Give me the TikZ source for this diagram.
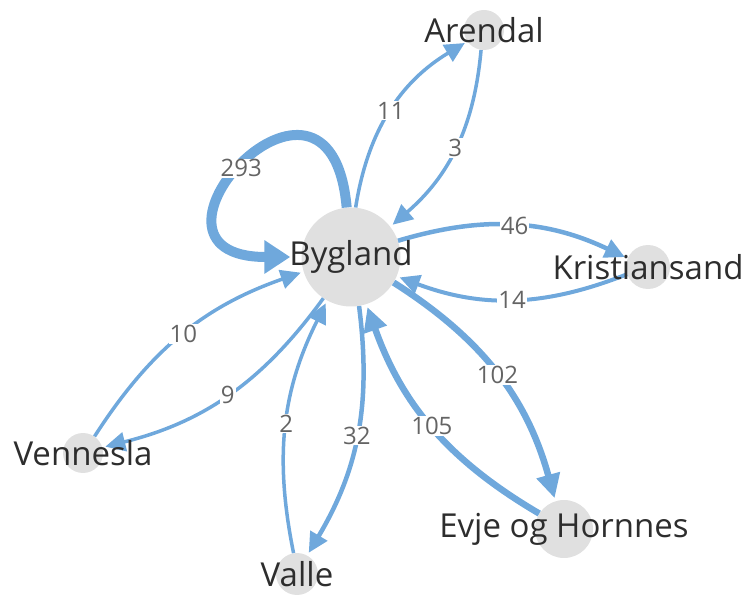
\documentclass[tikz,border=0pt]{standalone}
\usepackage{fontspec}
\setmainfont{Open Sans}
\usepackage{tikz}
\usetikzlibrary{calc,positioning,arrows.meta}

\definecolor{flowblue}{RGB}{111,168,220}
\definecolor{placegray}{RGB}{224,224,224}
\definecolor{nametext}{RGB}{45,45,45}
\definecolor{counttext}{RGB}{100,100,100}

\tikzset{
	place/.style={shape=circle,fill=placegray,inner sep=0pt,minimum size=#1},
	place/.default=40pt,
	placename/.style={text=nametext,inner sep=0pt,font=\fontsize{33}{40}\selectfont},
	count/.style={fill=white,inner sep=1pt,text=counttext,font=\fontsize{24}{28}\selectfont},
	flow/.style={color=flowblue,line width=#1,shorten >=3pt,>={Triangle[length=20pt,width=19pt]}},
	flow/.default=3.5pt,
	bigtip/.style={>={Triangle[length=24pt,width=23pt]}},
	hugetip/.style={>={Triangle[length=26pt,width=32pt]},shorten >=11pt},
}

\begin{document}
\begin{tikzpicture}[x=1pt,y=1pt]
		\useasboundingbox (0,0) rectangle (748,-596);
		\begin{scope}
			\node(byg) [place=99pt] at (351,-257) {};
			\node(are) [place=40pt] at (484,-30) {};
			\node(kri) [place=44pt] at (648,-267) {};
			\node(evj) [place=58pt] at (564,-529) {};
			\node(val) [place=42pt] at (297,-574) {};
			\node(ven) [place=40pt] at (83,-453) {};
			\path[->,flow]
				(byg) edge [out=95,in=180,looseness=7.2,line width=10pt,hugetip] node [count,pos=0.53] {293} (byg)
				(byg) edge [bend left=25] node [count] {11} (are)
				(are) edge [bend left=22] node [count] {3} (byg)
				(byg) edge [bend left=21,line width=4.5pt] node [count] {46} (kri)
				(kri) edge [bend left=21,line width=4pt] node [count] {14} (byg)
				(byg) edge [bend left=21,line width=6.5pt,bigtip] node [count] {102} (evj)
				(evj) edge [bend left=20,line width=6.5pt,bigtip] node [count] {105} (byg)
				(byg) edge [bend left=19,line width=4.5pt] node [count] {32} (val)
				(val) edge [bend left=19] node [count] {2} (byg)
				(ven) edge [bend left=19] node [count] {10} (byg)
				(byg) edge [bend left=20] node [count] {9} (ven);
			\node(bygname) [placename] at (byg) {Bygland};
			\node(arename) [placename] at (are) {Arendal};
			\node(kriname) [placename] at (kri) {Kristiansand};
			\node(evjname) [placename] at (evj) {Evje og Hornnes};
			\node(valname) [placename] at (val) {Valle};
			\node(venname) [placename] at (ven) {Vennesla};
		\end{scope}
	\end{tikzpicture}
\end{document}
